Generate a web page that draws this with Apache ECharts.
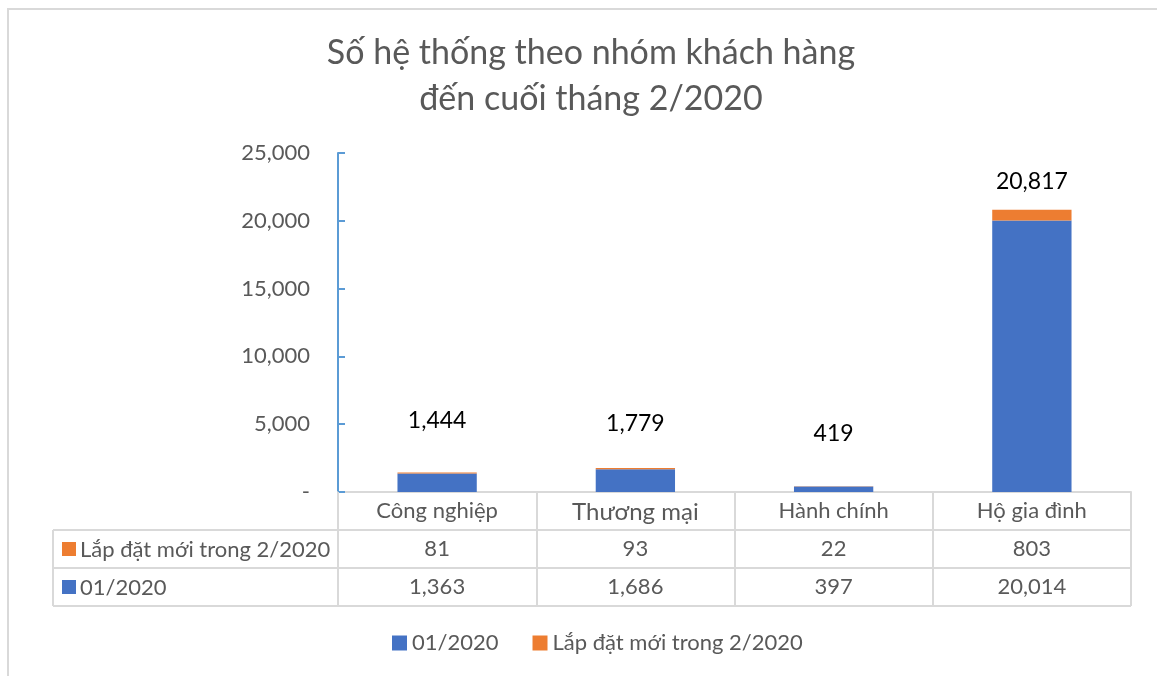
<!DOCTYPE html>
<html>
<head>
<meta charset="utf-8">
<script src="https://cdn.jsdelivr.net/npm/echarts@6/dist/echarts.min.js"></script>
<style>
  html, body { margin: 0; padding: 0; background: #fff; }
  #chart { width: 1157px; height: 676px; }
</style>
</head>
<body>
<div id="chart"></div>
<script>
// dữ liệu
const categories = ['Công nghiệp', 'Thương mại', 'Hành chính', 'Hộ gia đình'];
const janValues = [1363, 1686, 397, 20014];
const newInstall = [81, 93, 22, 803];
const totals = [1444, 1779, 419, 20817];
const seriesNames = ['01/2020', 'Lắp đặt mới trong 2/2020'];
const yTicks = [0, 5000, 10000, 15000, 20000, 25000];

// style
const FONT = 'Lato, "Open Sans", sans-serif';
const textColor = '#595959';
const blue = '#4472C4';
const orange = '#ED7D31';
const lineGray = '#D9D9D9';
const gridLeft = 338;
const gridRight = 26;
const rowH = 38;
const tableLeft = 53;
const fs = 22;
const totalLabelGap = [40, 33, 41, 17]; // khoảng cách nhãn tổng trên cột

const fmt = v => v.toLocaleString('en-US');

const chart = echarts.init(document.getElementById('chart'));

chart.setOption({
  animation: false,
  backgroundColor: '#fff',
  textStyle: { fontFamily: FONT },
  title: {
    text: 'Số hệ thống theo nhóm khách hàng\nđến cuối tháng 2/2020',
    left: 586,
    top: 25,
    textAlign: 'center',
    textStyle: {
      fontFamily: FONT,
      fontSize: 34,
      fontWeight: 'normal',
      color: textColor,
      lineHeight: 46
    }
  },
  grid: {
    left: gridLeft,
    right: gridRight,
    top: 153,
    bottom: 184,
    containLabel: false
  },
  legend: {
    data: seriesNames,
    left: 387,
    top: 627,
    itemWidth: 15,
    itemHeight: 15,
    itemGap: 34,
    icon: 'rect',
    textStyle: { color: textColor, fontSize: fs, fontFamily: FONT }
  },
  xAxis: [
    {
      type: 'category',
      data: categories,
      position: 'bottom',
      axisLine: { lineStyle: { color: lineGray, width: 2 } },
      axisTick: { show: true, interval: 0, length: rowH * 3, lineStyle: { color: lineGray, width: 2 } },
      axisLabel: {
        interval: 0,
        color: textColor,
        fontSize: fs,
        margin: 8,
        formatter: v => v === 'Thương mại' ? '{big|' + v + '}' : v,
        rich: { big: { fontSize: 24, color: textColor } }
      }
    },
    {
      type: 'category',
      data: categories,
      position: 'bottom',
      offset: rowH,
      axisLine: { show: false },
      axisTick: { show: false },
      axisLabel: {
        interval: 0,
        color: textColor,
        fontSize: fs,
        margin: 8,
        formatter: (v, i) => fmt(newInstall[i])
      }
    },
    {
      type: 'category',
      data: categories,
      position: 'bottom',
      offset: rowH * 2,
      axisLine: { show: false },
      axisTick: { show: false },
      axisLabel: {
        interval: 0,
        color: textColor,
        fontSize: fs,
        margin: 8,
        formatter: (v, i) => fmt(janValues[i])
      }
    }
  ],
  yAxis: {
    type: 'value',
    min: 0,
    max: yTicks[yTicks.length - 1],
    interval: yTicks[1] - yTicks[0],
    axisLine: { show: true, lineStyle: { color: '#5B9BD5', width: 2 } },
    axisTick: { show: true, inside: true, length: 7, lineStyle: { color: '#5B9BD5', width: 2 } },
    splitLine: { show: false },
    axisLabel: {
      color: textColor,
      fontSize: fs,
      margin: 28,
      formatter: v => v === 0 ? '-' : fmt(v)
    }
  },
  series: [
    {
      name: seriesNames[0],
      type: 'bar',
      stack: 'total',
      barWidth: '40%',
      itemStyle: { color: blue },
      data: janValues
    },
    {
      name: seriesNames[1],
      type: 'bar',
      stack: 'total',
      barWidth: '40%',
      itemStyle: { color: orange },
      data: newInstall.map((v, i) => ({
        value: v,
        label: { distance: totalLabelGap[i] }
      })),
      label: {
        show: true,
        position: 'top',
        color: '#000',
        fontSize: 23,
        fontFamily: FONT,
        formatter: p => fmt(totals[p.dataIndex])
      }
    }
  ]
});

// khung và bảng dữ liệu
const zeroY = chart.convertToPixel({ yAxisIndex: 0 }, 0);
const rightX = chart.getWidth() - gridRight;
const rowLabels = [
  { name: seriesNames[1], color: orange },
  { name: seriesNames[0], color: blue }
];
const graphics = [
  {
    type: 'rect',
    shape: { x: 8, y: 9, width: 1200, height: 720 },
    style: { fill: 'none', stroke: lineGray, lineWidth: 2 },
    silent: true
  }
];
for (let r = 1; r <= 3; r++) {
  graphics.push({
    type: 'line',
    shape: { x1: tableLeft, y1: zeroY + rowH * r, x2: rightX, y2: zeroY + rowH * r },
    style: { stroke: lineGray, lineWidth: 2 },
    silent: true
  });
}
graphics.push({
  type: 'line',
  shape: { x1: tableLeft, y1: zeroY + rowH, x2: tableLeft, y2: zeroY + rowH * 3 },
  style: { stroke: lineGray, lineWidth: 2 },
  silent: true
});
rowLabels.forEach((row, i) => {
  const cy = zeroY + rowH * (i + 1) + rowH / 2;
  graphics.push({
    type: 'rect',
    shape: { x: tableLeft + 9, y: cy - 7, width: 14, height: 14 },
    style: { fill: row.color },
    silent: true
  });
  graphics.push({
    type: 'text',
    x: tableLeft + 27,
    y: cy + 1,
    style: {
      text: row.name,
      fill: textColor,
      fontSize: fs,
      fontFamily: FONT,
      verticalAlign: 'middle'
    },
    silent: true
  });
});
chart.setOption({ graphic: graphics });
</script>
</body>
</html>
